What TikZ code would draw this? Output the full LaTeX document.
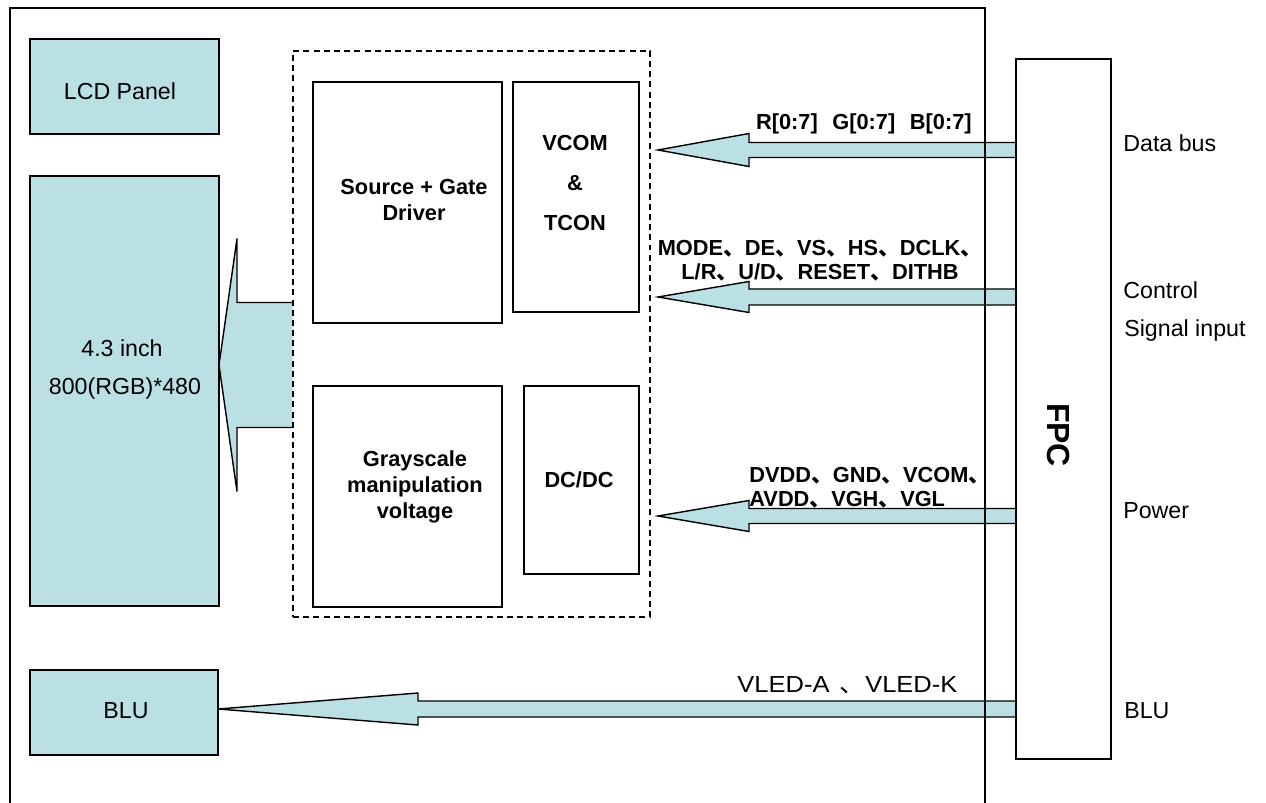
\documentclass[tikz,border=0pt]{standalone}
\usepackage{fontspec}
\setmainfont{Liberation Sans}
\newfontfamily\cjkfont{Noto Sans CJK SC}
\newcommand\dun{{\cjkfont 、}}
\usetikzlibrary{calc,fit}
\definecolor{pale}{RGB}{186,224,228}
\tikzset{
  box/.style={draw, line width=0.8pt, inner sep=0pt},
  panel/.style={draw, fill=pale, line width=0.8pt, inner sep=0pt},
  dashbox/.style={draw, line width=0.7pt, dash pattern=on 3.4pt off 2.4pt, inner sep=0pt},
  frameline/.style={line width=0.8pt},
  arrline/.style={line width=0.8pt, line join=miter},
  reg/.style={font=\fontsize{13.2}{15}\selectfont, inner sep=0pt},
  bld/.style={font=\bfseries\fontsize{12.4}{14.8}\selectfont, inner sep=0pt},
}
% #1 tip, #2 shaft end, #3 head length, #4 head half height, #5 shaft half height
\newcommand\blockarr[5]{%
  \fill[pale] (#1) -- ($(#1)+(#3,-#4)$) -- ($(#1)+(#3,-#5)$) -- ($(#2)+(0,-#5)$)
    -- ($(#2)+(0,#5)$) -- ($(#1)+(#3,#5)$) -- ($(#1)+(#3,#4)$) -- cycle;
  \draw[arrline] ($(#2)+(0,-#5)$) -- ($(#1)+(#3,-#5)$) -- ($(#1)+(#3,-#4)$) -- (#1)
    -- ($(#1)+(#3,#4)$) -- ($(#1)+(#3,#5)$) -- ($(#2)+(0,#5)$);}
\begin{document}
\begin{tikzpicture}[x=0.02cm, y=-0.02cm]
\useasboundingbox (0,0) rectangle (1266,803);
\fill[white] (0,0) rectangle (1266,803);

% boxes (positions only, drawn later on top of arrows)
\node[fit={(30,39)(219,134)}, inner sep=0pt] (lcd) {};
\node[fit={(30,176)(219,606)}, inner sep=0pt] (panel) {};
\node[fit={(293,51)(650,617)}, inner sep=0pt] (ic) {};
\node[fit={(1016,59)(1111,759)}, inner sep=0pt] (fpc) {};
\node[fit={(30,670)(218,755)}, inner sep=0pt] (blu) {};

% block arrows
\coordinate (tipP) at (219,365);
\coordinate (endP) at (ic.west |- tipP);
\blockarr{tipP}{endP}{18}{126.5}{62.5}

\coordinate (tipD) at (658,150);
\coordinate (endD) at (fpc.west |- tipD);
\blockarr{tipD}{endD}{91}{16.5}{7.5}

\coordinate (tipC) at (658,297);
\coordinate (endC) at (fpc.west |- tipC);
\blockarr{tipC}{endC}{91}{15.5}{8}

\coordinate (tipW) at (658,516);
\coordinate (endW) at (fpc.west |- tipW);
\blockarr{tipW}{endW}{91}{15.5}{7.5}

\coordinate (tipB) at (218,709);
\coordinate (endB) at (fpc.west |- tipB);
\blockarr{tipB}{endB}{200}{16}{8}

% outer frame
\coordinate (f1) at (10,803);
\coordinate (f2) at (10,8);
\coordinate (f3) at (985,8);
\coordinate (f4) at (985,803);
\draw[frameline] (f1) -- (f2) -- (f3) -- (f4);

% visible boxes
\node[panel, fit={(30,39)(219,134)}] (lcdb) {};
\node[panel, fit={(30,176)(219,606)}] (panelb) {};
\node[panel, fit={(30,670)(218,755)}] (blub) {};
\node[dashbox, fit={(293,51)(650,617)}] (icb) {};
\node[box, fit={(313,82)(502,323)}] (src) {};
\node[box, fit={(513,82)(639,312)}] (vcom) {};
\node[box, fit={(313,386)(502,607)}] (gray) {};
\node[box, fit={(524,386)(639,574)}] (dcdc) {};
\node[box, fill=white, fit={(1016,59)(1111,759)}] (fpcb) {};

% texts in boxes
\node[reg, anchor=base] (tlcd) at (120,99.5) {LCD Panel};
\node[reg, anchor=base] (tsize1) at (122,356.5) {4.3 inch};
\node[reg, anchor=base] (tsize2) at (125,394.5) {800(RGB)*480};
\node[reg, anchor=base] (tblu) at (126,718.5) {BLU};
\node[bld, align=center] (tsrc) at (414,200) {Source + Gate\\Driver};
\node[bld, align=center, font=\bfseries\fontsize{12.4}{22.8}\selectfont] (tvcom) at (575,183) {VCOM\\\&\\TCON};
\node[bld, align=center] (tgray) at (415,487) {Grayscale\\manipulation\\voltage};
\node[bld, anchor=base] (tdcdc) at (579,487.8) {DC/DC};
\node[font=\bfseries\fontsize{18.2}{20}\selectfont, rotate=-90, inner sep=0pt] (tfpc) at (1058,435) {FPC};

% signal labels
\node[bld, anchor=base east] (tdata) at (972,130) {R[0:7]\hspace{0.67em}G[0:7]\hspace{0.67em}B[0:7]};
\node[bld, align=center, font=\bfseries\fontsize{12.4}{13.7}\selectfont] (tctrl) at (820,261)
  {MODE\dun DE\dun VS\dun HS\dun DCLK\dun\\L/R\dun U/D\dun RESET\dun DITHB};
\node[bld, align=left, anchor=west, font=\bfseries\fontsize{12.4}{13.7}\selectfont] (tpow) at (749,488)
  {DVDD\dun GND\dun VCOM\dun\\AVDD\dun VGH\dun VGL};
\node[reg, anchor=base west, xscale=1.1] (tvled) at (737,692.5) {VLED-A\hspace{0.4em}\dun VLED-K};

% right side labels
\node[reg, anchor=base west] (ldata) at (1123,151.5) {Data bus};
\node[reg, anchor=base west] (lctrl) at (1123,298.5) {Control};
\node[reg, anchor=base west] (lsig) at (1124,336.5) {Signal input};
\node[reg, anchor=base west] (lpow) at (1123,518.5) {Power};
\node[reg, anchor=base west] (lblu) at (1124,718.5) {BLU};
\end{tikzpicture}
\end{document}
